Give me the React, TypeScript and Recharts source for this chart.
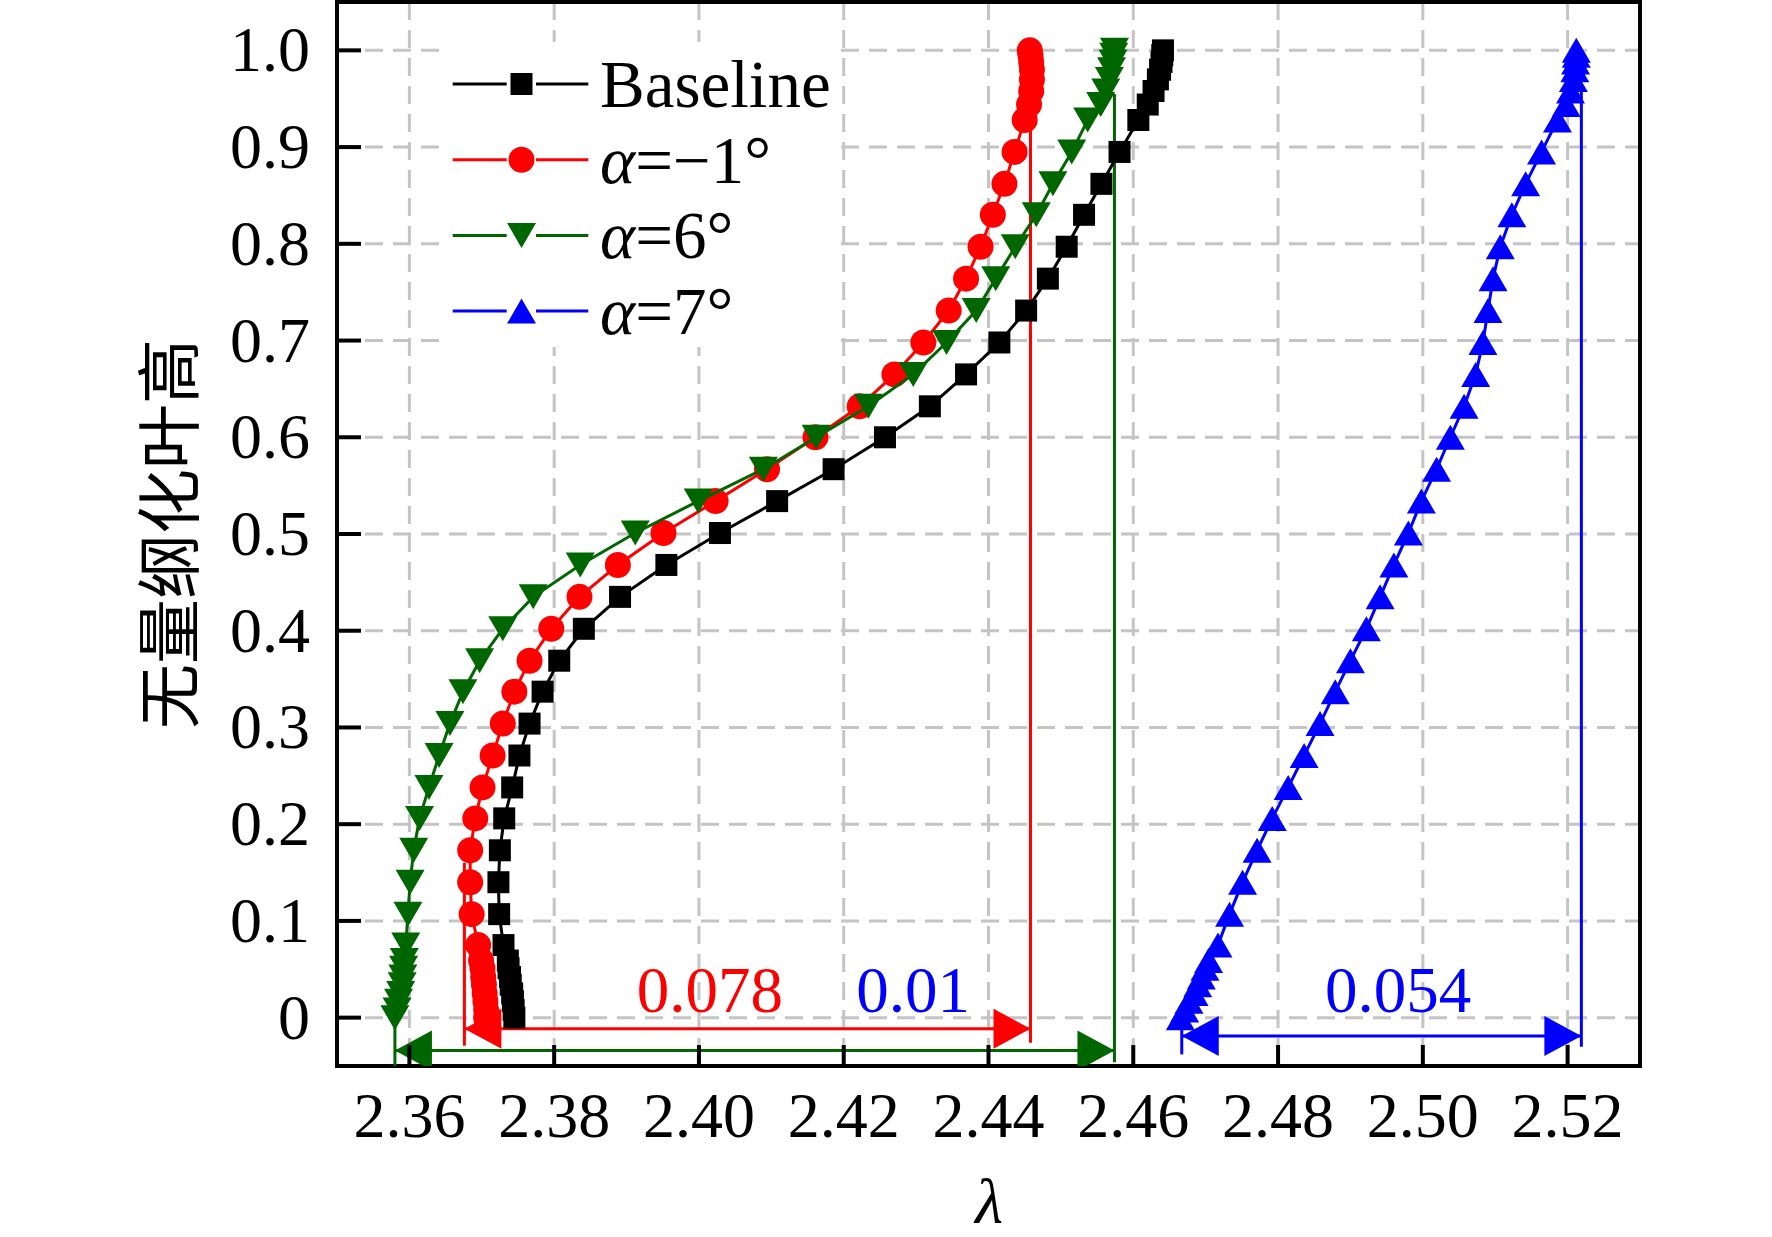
import React from 'react';
import {
  ScatterChart,
  Scatter,
  XAxis,
  YAxis,
  CartesianGrid,
  ReferenceLine,
  ReferenceArea,
  Legend,
  Label,
} from 'recharts';

// ---------- data ----------
const spanY = [
  0, 0.008, 0.017, 0.025, 0.034, 0.042, 0.051, 0.059, 0.075, 0.107, 0.14, 0.173, 0.206, 0.238,
  0.271, 0.304, 0.337, 0.369, 0.402, 0.435, 0.468, 0.501, 0.534, 0.567, 0.6, 0.632, 0.665, 0.698,
  0.731, 0.764, 0.797, 0.83, 0.862, 0.895, 0.928, 0.944, 0.958, 0.97, 0.98, 0.988, 0.995, 1.0,
];

const baselineLambda = [
  2.3745, 2.3744, 2.3743, 2.3742, 2.374, 2.3739, 2.3737, 2.3736, 2.373, 2.3724, 2.3723, 2.3725,
  2.3731, 2.3742, 2.3752, 2.3766, 2.3784, 2.3807, 2.3841, 2.3891, 2.3955, 2.4029, 2.4108, 2.4186,
  2.4257, 2.4319, 2.4369, 2.4415, 2.4452, 2.4482, 2.4508, 2.4532, 2.4556, 2.4581, 2.4607, 2.462,
  2.4628, 2.4634, 2.4637, 2.4639, 2.464, 2.4641,
];

const alphaM1Lambda = [
  2.3706, 2.3706, 2.3705, 2.3704, 2.3703, 2.3702, 2.3701, 2.3699, 2.3695, 2.3686, 2.3684, 2.3684,
  2.3691, 2.3701, 2.3715, 2.3729, 2.3745, 2.3766, 2.3796, 2.3835, 2.3888, 2.3951, 2.4023, 2.4094,
  2.4161, 2.4222, 2.427, 2.431, 2.4345, 2.4369, 2.4389, 2.4406, 2.4422, 2.4436, 2.445, 2.4456,
  2.4459, 2.446, 2.446, 2.4459, 2.4458, 2.4457,
];

const alpha6Lambda = [
  2.358, 2.3583, 2.3585, 2.3588, 2.359, 2.3591, 2.3592, 2.3593, 2.3595, 2.3598, 2.3601, 2.3606,
  2.3614, 2.3627, 2.3641, 2.3656, 2.3674, 2.3697, 2.3729, 2.3771, 2.3836, 2.3912, 2.3999, 2.4089,
  2.4162, 2.4234, 2.4296, 2.4342, 2.4383, 2.441, 2.4437, 2.4466, 2.4489, 2.4515, 2.4537, 2.4555,
  2.4562, 2.4567, 2.457, 2.4572, 2.4573, 2.4574,
];

const alpha7Lambda = [
  2.4665, 2.4671, 2.4677, 2.4684, 2.4689, 2.4694, 2.4699, 2.4704, 2.4717, 2.4733, 2.4751, 2.4771,
  2.4792, 2.4814, 2.4836, 2.4858, 2.4879, 2.49, 2.4922, 2.4941, 2.496, 2.498, 2.4998, 2.5019,
  2.5038, 2.5057, 2.5073, 2.5083, 2.509, 2.5097, 2.5107, 2.5123, 2.5142, 2.5164, 2.5186, 2.5198,
  2.5204, 2.5208, 2.521, 2.5211, 2.5212, 2.5212,
];

const xTicks = [2.36, 2.38, 2.4, 2.42, 2.44, 2.46, 2.48, 2.5, 2.52];
const yTicks = [0, 0.1, 0.2, 0.3, 0.4, 0.5, 0.6, 0.7, 0.8, 0.9, 1.0];

const seriesNames = ['Baseline', 'α=−1°', 'α=6°', 'α=7°'];

// bracket annotations (data coordinates)
const bracketSegments = [
  { x1: 2.4458, y1: 1.0, x2: 2.4458, y2: -0.026, c: 'red' },
  { x1: 2.3676, y1: 0.16, x2: 2.3676, y2: -0.029, c: 'red' },
  { x1: 2.3676, y1: -0.0115, x2: 2.4458, y2: -0.0115, c: 'red' },
  { x1: 2.4574, y1: 0.955, x2: 2.4574, y2: -0.046, c: 'green' },
  { x1: 2.358, y1: 0.0, x2: 2.358, y2: -0.05, c: 'green' },
  { x1: 2.358, y1: -0.034, x2: 2.4574, y2: -0.034, c: 'green' },
  { x1: 2.5219, y1: 0.958, x2: 2.5219, y2: -0.03, c: 'blue' },
  { x1: 2.4667, y1: -0.005, x2: 2.4667, y2: -0.038, c: 'blue' },
  { x1: 2.4667, y1: -0.019, x2: 2.5219, y2: -0.019, c: 'blue' },
];

const arrowTips = [
  { x: 2.3676, y: -0.0115, dir: -1, c: 'red' },
  { x: 2.4458, y: -0.0115, dir: 1, c: 'red' },
  { x: 2.358, y: -0.034, dir: -1, c: 'green' },
  { x: 2.4574, y: -0.034, dir: 1, c: 'green' },
  { x: 2.4667, y: -0.019, dir: -1, c: 'blue' },
  { x: 2.5219, y: -0.019, dir: 1, c: 'blue' },
];

const rangeLabels = [
  { x: 2.4015, y: 0.006, text: '0.078', c: 'red' },
  { x: 2.4296, y: 0.006, text: '0.01', c: 'blue' },
  { x: 2.4966, y: 0.006, text: '0.054', c: 'blue' },
];

// ---------- styles ----------
const COLORS: Record<string, string> = {
  black: '#000000',
  red: '#ff0000',
  green: '#006600',
  blue: '#0000ff',
};
const SERIF = "'Liberation Serif', 'Times New Roman', serif";
const CJK = "'Noto Sans CJK SC', 'Noto Sans CJK JP', sans-serif";
const FS = 64;

const toPoints = (xs: number[]) => xs.map((x, i) => ({ x, y: spanY[i] }));
const baselineData = toPoints(baselineLambda);
const alphaM1Data = toPoints(alphaM1Lambda);
const alpha6Data = toPoints(alpha6Lambda);
const alpha7Data = toPoints(alpha7Lambda);

// ---------- marker shapes ----------
const SQ = 22;
const CR = 13;
const TW = 29;
const TH = 25;

const squareShape = (color: string) => (p: any) => (
  <rect x={p.cx - SQ / 2} y={p.cy - SQ / 2} width={SQ} height={SQ} fill={color} />
);
const circleShape = (color: string) => (p: any) => <circle cx={p.cx} cy={p.cy} r={CR} fill={color} />;
const downTriShape = (color: string) => (p: any) => (
  <polygon
    points={`${p.cx - TW / 2},${p.cy - TH / 2} ${p.cx + TW / 2},${p.cy - TH / 2} ${p.cx},${p.cy + TH / 2}`}
    fill={color}
  />
);
const upTriShape = (color: string) => (p: any) => (
  <polygon
    points={`${p.cx - TW / 2},${p.cy + TH / 2} ${p.cx + TW / 2},${p.cy + TH / 2} ${p.cx},${p.cy - TH / 2}`}
    fill={color}
  />
);

const ArrowHead = (p: any) => {
  const d = p.payload.dir;
  const L = 37;
  const H = 20;
  const color = COLORS[p.payload.c];
  return (
    <polygon
      points={`${p.cx},${p.cy} ${p.cx - d * L},${p.cy - H} ${p.cx - d * L},${p.cy + H}`}
      fill={color}
    />
  );
};

const RangeText = (p: any) => (
  <text
    x={p.cx}
    y={p.cy}
    textAnchor="middle"
    fontFamily={SERIF}
    fontSize={65}
    fill={COLORS[p.payload.c]}
  >
    {p.payload.text}
  </text>
);

// ---------- axis ticks ----------
const XTick = (p: any) => {
  const v = p.payload.value as number;
  return (
    <g>
      <line x1={p.x} y1={p.y} x2={p.x} y2={p.y - 21} stroke="#000" strokeWidth={4} />
      <text x={p.x} y={p.y + 71} textAnchor="middle" fontFamily={SERIF} fontSize={FS} fill="#000">
        {v.toFixed(2)}
      </text>
    </g>
  );
};

const YTick = (p: any) => {
  const v = p.payload.value as number;
  const label = Math.abs(v) < 1e-9 ? '0' : v.toFixed(1);
  return (
    <g>
      <line x1={p.x} y1={p.y} x2={p.x + 24} y2={p.y} stroke="#000" strokeWidth={4} />
      <text x={p.x - 27} y={p.y + 21} textAnchor="end" fontFamily={SERIF} fontSize={FS} fill="#000">
        {label}
      </text>
    </g>
  );
};

// ---------- legend ----------
const legendMarkers = [
  (cx: number, cy: number) => (
    <rect x={cx - SQ / 2} y={cy - SQ / 2} width={SQ} height={SQ} fill={COLORS.black} />
  ),
  (cx: number, cy: number) => <circle cx={cx} cy={cy} r={CR} fill={COLORS.red} />,
  (cx: number, cy: number) => (
    <polygon
      points={`${cx - TW / 2},${cy - TH / 2} ${cx + TW / 2},${cy - TH / 2} ${cx},${cy + TH / 2}`}
      fill={COLORS.green}
    />
  ),
  (cx: number, cy: number) => (
    <polygon
      points={`${cx - TW / 2},${cy + TH / 2} ${cx + TW / 2},${cy + TH / 2} ${cx},${cy - TH / 2}`}
      fill={COLORS.blue}
    />
  ),
];
const legendColors = [COLORS.black, COLORS.red, COLORS.green, COLORS.blue];

const LegendBox = () => (
  <svg width={396} height={305} style={{ display: 'block' }}>
    {seriesNames.map((name, i) => {
      const cy = 42 + i * 75.7;
      const color = legendColors[i];
      const isAlpha = name.startsWith('α');
      return (
        <g key={name}>
          <line x1={9.7} y1={cy} x2={63.7} y2={cy} stroke={color} strokeWidth={3} />
          <line x1={93} y1={cy} x2={145.3} y2={cy} stroke={color} strokeWidth={3} />
          {legendMarkers[i](78.5, cy)}
          <text x={157} y={cy + 23} fontFamily={SERIF} fontSize={67} fill="#000">
            {isAlpha ? (
              <>
                <tspan fontStyle="italic">α</tspan>
                <tspan>{name.slice(1)}</tspan>
              </>
            ) : (
              name
            )}
          </text>
        </g>
      );
    })}
  </svg>
);

export default function App() {
  return (
    <div style={{ position: 'absolute', left: 0, top: 0, width: 1772, height: 1237, background: '#fff' }}>
      <ScatterChart
        width={1772}
        height={1237}
        margin={{ top: 2, right: 132, bottom: 0, left: 0 }}
      >
        <CartesianGrid stroke="#c4c4c4" strokeWidth={3} strokeDasharray="18 10" />
        <XAxis
          type="number"
          dataKey="x"
          domain={[2.35, 2.53]}
          ticks={xTicks}
          interval={0}
          allowDataOverflow
          height={171}
          axisLine={false}
          tickLine={false}
          tickSize={0}
          tickMargin={0}
          tick={<XTick />}
          label={
            <Label
              content={() => (
                <text
                  x={989}
                  y={1223}
                  textAnchor="middle"
                  fontFamily={SERIF}
                  fontStyle="italic"
                  fontSize={FS}
                  fill="#000"
                >
                  λ
                </text>
              )}
            />
          }
        />
        <YAxis
          type="number"
          dataKey="y"
          domain={[-0.05, 1.05]}
          ticks={yTicks}
          interval={0}
          allowDataOverflow
          width={337}
          axisLine={false}
          tickLine={false}
          tickSize={0}
          tickMargin={0}
          tick={<YTick />}
          label={
            <Label
              content={() => (
                <text
                  x={165}
                  y={534}
                  transform="rotate(-90, 165, 534)"
                  textAnchor="middle"
                  dominantBaseline="central"
                  fontFamily={CJK}
                  fontSize={65}
                  fill="#000"
                >
                  无量纲化叶高
                </text>
              )}
            />
          }
        />
        <Scatter
          name={seriesNames[0]}
          data={baselineData}
          fill={COLORS.black}
          line={{ stroke: COLORS.black, strokeWidth: 3 }}
          lineType="joint"
          shape={squareShape(COLORS.black)}
          isAnimationActive={false}
          legendType="none"
        />
        <Scatter
          name={seriesNames[1]}
          data={alphaM1Data}
          fill={COLORS.red}
          line={{ stroke: COLORS.red, strokeWidth: 3 }}
          lineType="joint"
          shape={circleShape(COLORS.red)}
          isAnimationActive={false}
          legendType="none"
        />
        <Scatter
          name={seriesNames[2]}
          data={alpha6Data}
          fill={COLORS.green}
          line={{ stroke: COLORS.green, strokeWidth: 3 }}
          lineType="joint"
          shape={downTriShape(COLORS.green)}
          isAnimationActive={false}
          legendType="none"
        />
        <Scatter
          name={seriesNames[3]}
          data={alpha7Data}
          fill={COLORS.blue}
          line={{ stroke: COLORS.blue, strokeWidth: 3 }}
          lineType="joint"
          shape={upTriShape(COLORS.blue)}
          isAnimationActive={false}
          legendType="none"
        />
        {bracketSegments.map((s, i) => (
          <ReferenceLine
            key={`seg-${i}`}
            segment={[
              { x: s.x1, y: s.y1 },
              { x: s.x2, y: s.y2 },
            ]}
            stroke={COLORS[s.c]}
            strokeWidth={3}
            ifOverflow="visible"
          />
        ))}
        <Scatter
          data={arrowTips}
          fill="#000"
          shape={ArrowHead}
          isAnimationActive={false}
          legendType="none"
        />
        <Scatter
          data={rangeLabels}
          fill="#000"
          shape={RangeText}
          isAnimationActive={false}
          legendType="none"
        />
        <ReferenceArea
          x1={2.35}
          x2={2.53}
          y1={-0.05}
          y2={1.05}
          fill="none"
          fillOpacity={0}
          stroke="#000"
          strokeWidth={4}
          ifOverflow="visible"
        />
        <Legend
          layout="horizontal"
          verticalAlign="middle"
          align="center"
          content={() => <LegendBox />}
          wrapperStyle={{
            position: 'absolute',
            left: 443,
            top: 42,
            width: 396,
            height: 305,
            background: '#fff',
            lineHeight: 0,
          }}
        />
      </ScatterChart>
    </div>
  );
}
